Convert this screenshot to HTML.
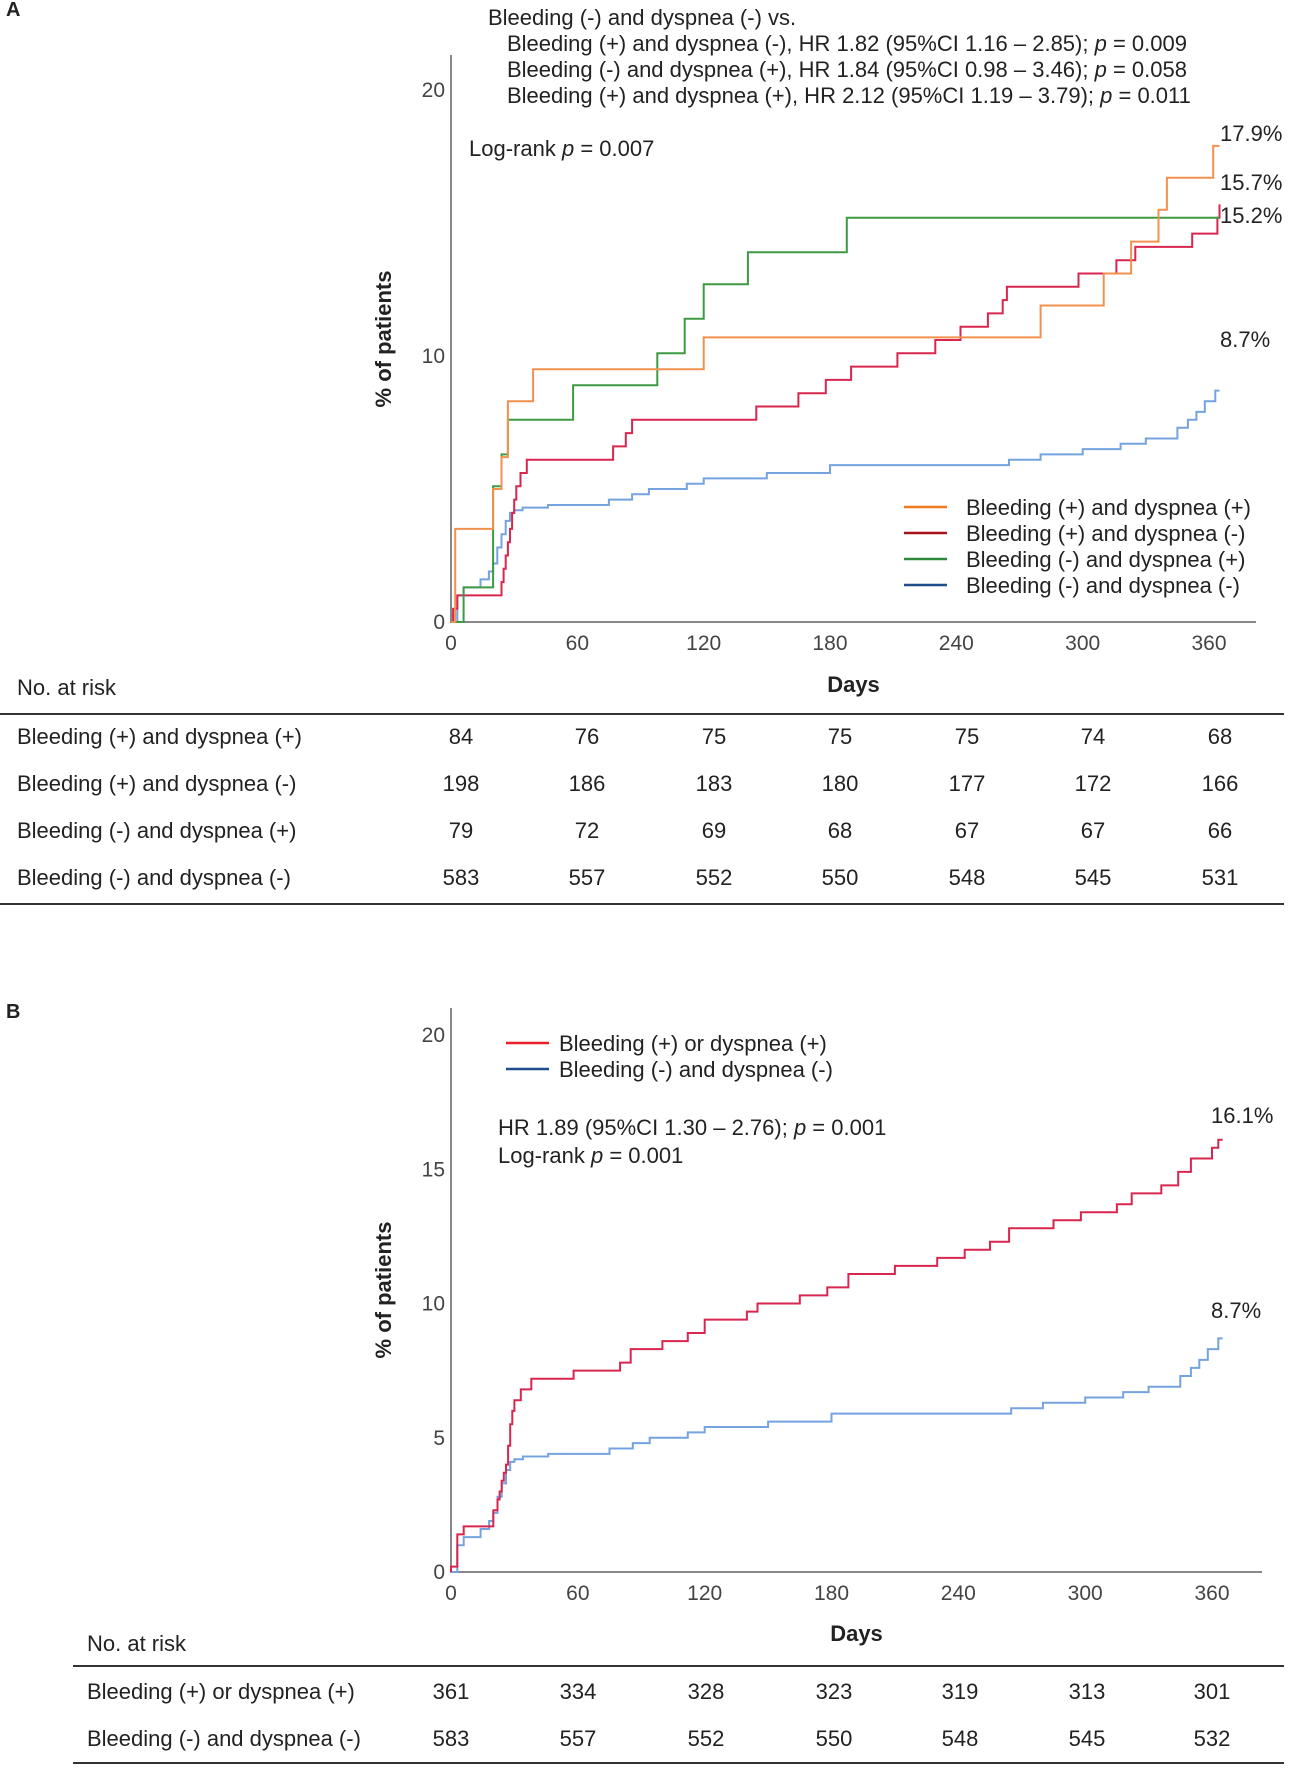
<!DOCTYPE html>
<html><head><meta charset="utf-8"><style>
html,body{margin:0;padding:0;background:#fff;}
svg{display:block;font-family:"Liberation Sans",Arial,sans-serif;}
</style></head><body>
<svg id="fig" width="1291" height="1772" viewBox="0 0 1291 1772" xmlns="http://www.w3.org/2000/svg">
<g font-size="22" fill="#222">
<text x="6" y="16" font-weight="bold" font-size="20">A</text>
<text x="488" y="25">Bleeding (-) and dyspnea (-) vs.</text>
<text x="507" y="51">Bleeding (+) and dyspnea (-), HR 1.82 (95%CI 1.16 – 2.85); <tspan font-style="italic">p</tspan> = 0.009</text>
<text x="507" y="77">Bleeding (-) and dyspnea (+), HR 1.84 (95%CI 0.98 – 3.46); <tspan font-style="italic">p</tspan> = 0.058</text>
<text x="507" y="103">Bleeding (+) and dyspnea (+), HR 2.12 (95%CI 1.19 – 3.79); <tspan font-style="italic">p</tspan> = 0.011</text>
<text x="469" y="156">Log-rank <tspan font-style="italic">p</tspan> = 0.007</text>
<text x="6" y="1018" font-weight="bold" font-size="20">B</text>
<text x="498" y="1135">HR 1.89 (95%CI 1.30 – 2.76); <tspan font-style="italic">p</tspan> = 0.001</text>
<text x="498" y="1163">Log-rank <tspan font-style="italic">p</tspan> = 0.001</text>
</g>
<g id="A"></g><g id="B"></g>
</svg>
<script>
const NS="http://www.w3.org/2000/svg";
const xTicks=[0,60,120,180,240,300,360];
// Panel A data
const aOrangeDays=[0,2,20,24,27,39,120,280,310,323,336,340,362,365];
const aOrangeVals=[0,3.5,5.0,6.2,8.3,9.5,10.7,11.9,13.1,14.3,15.5,16.7,17.9,17.9];
const aGreenDays=[0,6,20,24,27,58,98,111,120,141,188,365];
const aGreenVals=[0,1.3,5.1,6.3,7.6,8.9,10.1,11.4,12.7,13.9,15.2,15.2];
const aRedDays=[0,1,3,24,25,26,27,28,29,30,31,33,36,77,83,86,87,145,165,178,190,212,230,242,255,262,264,298,316,325,352,364,365];
const aRedVals=[0,0.5,1.0,1.5,2.0,2.5,3.0,3.5,4.1,4.6,5.1,5.6,6.1,6.6,7.1,7.6,7.6,8.1,8.6,9.1,9.6,10.1,10.6,11.1,11.6,12.1,12.6,13.1,13.6,14.1,14.6,15.2,15.7];
const blueDays=[0,3,6,14,18,20,22,24,26,28,30,34,46,75,86,94,112,120,150,180,265,280,300,318,330,345,350,354,358,363,365];
const blueVals=[0,1.0,1.3,1.6,1.9,2.2,2.8,3.3,3.8,4.1,4.2,4.3,4.4,4.6,4.8,5.0,5.2,5.4,5.6,5.9,6.1,6.3,6.5,6.7,6.9,7.3,7.6,7.9,8.3,8.7,8.7];
// Panel B data
const bRedDays=[0,3,6,20,22,23,24,25,26,27,28,29,30,33,38,58,80,85,100,112,120,140,145,165,178,188,210,230,243,255,264,285,298,315,322,336,344,350,360,363,365];
const bRedVals=[0.2,1.4,1.7,2.3,2.7,3.0,3.4,3.7,4.0,4.7,5.5,6.0,6.4,6.8,7.2,7.5,7.8,8.3,8.6,8.9,9.4,9.7,10.0,10.3,10.6,11.1,11.4,11.7,12.0,12.3,12.8,13.1,13.4,13.7,14.1,14.4,14.9,15.4,15.8,16.1,16.1];
const aRiskLabels=["Bleeding (+) and dyspnea (+)","Bleeding (+) and dyspnea (-)","Bleeding (-) and dyspnea (+)","Bleeding (-) and dyspnea (-)"];
const aRisk=[[84,76,75,75,75,74,68],[198,186,183,180,177,172,166],[79,72,69,68,67,67,66],[583,557,552,550,548,545,531]];
const bRiskLabels=["Bleeding (+) or dyspnea  (+)","Bleeding (-) and dyspnea (-)"];
const bRisk=[[361,334,328,323,319,313,301],[583,557,552,550,548,545,532]];

function el(parent,tag,attrs,text){const e=document.createElementNS(NS,tag);for(const k in attrs)e.setAttribute(k,attrs[k]);if(text!==undefined)e.textContent=text;parent.appendChild(e);return e;}

function panel(g,cfg){
  const X=d=>cfg.x0+(d/360)*(cfg.x360-cfg.x0);
  const Y=v=>cfg.y0+(v/20)*(cfg.y20-cfg.y0);
  const ax=el(g,'path',{d:`M${cfg.x0} ${cfg.yTop} V${cfg.y0} H${cfg.xEnd}`,stroke:'#888',fill:'none','stroke-width':2});
  
  
  xTicks.forEach(t=>{const e=el(g,'text',{x:X(t),y:cfg.y0+28,'text-anchor':'middle','font-size':21,fill:'#444'},t);
    
    });
  cfg.yTicks.forEach(t=>{const e=el(g,'text',{x:cfg.x0-6,y:Y(t)+7,'text-anchor':'end','font-size':21,fill:'#444'},t);
    
    });
  const yl=el(g,'text',{x:0,y:0,transform:`translate(${cfg.ylx},${cfg.yly}) rotate(-90)`,'text-anchor':'middle','font-size':22,'font-weight':'bold',fill:'#222'},'% of patients');
  
  
  const xl=el(g,'text',{x:(cfg.x0+cfg.xEnd)/2,y:cfg.daysY,'text-anchor':'middle','font-size':22,'font-weight':'bold',fill:'#222'},'Days');
  
  
  cfg.series.forEach(s=>{
    let d=`M${X(s.days[0])} ${Y(0)} V${Y(s.vals[0])}`;
    for(let i=1;i<s.days.length;i++){d+=` H${X(s.days[i]).toFixed(1)} V${Y(s.vals[i]).toFixed(1)}`;}
    const p=el(g,'path',{d:d,stroke:s.color,fill:'none','stroke-width':2});
    
    
  });
  cfg.endLabels.forEach(l=>{const e=el(g,'text',{x:l[0],y:l[1],'font-size':22,fill:'#222'},l[2]);
    
    });
  cfg.legend.forEach((l,i)=>{
    const y=cfg.legY+i*cfg.legDy;
    const ln=el(g,'line',{x1:cfg.legX1,x2:cfg.legX2,y1:y,y2:y,stroke:l[1],'stroke-width':2.5});
    
    
    const t=el(g,'text',{x:cfg.legTx,y:y+8,'font-size':22,fill:'#222'},l[0]);
    
    
  });
  const nr=el(g,'text',{x:cfg.labX,y:cfg.nrY,'font-size':22,fill:'#222'},'No. at risk');
  
  
  const l1=el(g,'line',{x1:cfg.tl,x2:1284,y1:cfg.line1,y2:cfg.line1,stroke:'#333','stroke-width':2});
  
  
  const l2=el(g,'line',{x1:cfg.tl,x2:1284,y1:cfg.line2,y2:cfg.line2,stroke:'#333','stroke-width':2});
  
  
  cfg.riskLabels.forEach((lab,r)=>{
    const y=cfg.row0+r*cfg.rowDy;
    const t=el(g,'text',{x:cfg.labX,y:y,'font-size':22,fill:'#222'},lab);
    
    
    cfg.risk[r].forEach((v,c)=>{const e=el(g,'text',{x:cfg.colX[c],y:y,'text-anchor':'middle','font-size':22,fill:'#222'},v);
      
      });
  });
}
panel(document.getElementById('A'),{x0:451,x360:1209,xEnd:1256,y0:622,y20:90,yTop:55,yTicks:[0,10,20],
  ylx:391,yly:339,daysY:692,
  series:[{name:'curve-bleed-neg-dysp-neg',days:blueDays,vals:blueVals,color:'#74a3e0'},
          {name:'curve-bleed-pos-dysp-neg',days:aRedDays,vals:aRedVals,color:'#d8264f'},
          {name:'curve-bleed-neg-dysp-pos',days:aGreenDays,vals:aGreenVals,color:'#3e9a42'},
          {name:'curve-bleed-pos-dysp-pos',days:aOrangeDays,vals:aOrangeVals,color:'#f0914f'}],
  endLabels:[[1220,141,'17.9%'],[1220,190,'15.7%'],[1220,223,'15.2%'],[1220,347,'8.7%']],
  legend:[['Bleeding (+) and dyspnea (+)','#f07a20'],['Bleeding (+) and dyspnea (-)','#a8101c'],['Bleeding (-) and dyspnea (+)','#2e8a3a'],['Bleeding (-) and dyspnea (-)','#1f4e8c']],
  legY:507,legDy:26,legX1:904,legX2:947,legTx:966,
  labX:17,nrY:695,tl:0,line1:714,line2:904,row0:744,rowDy:47,
  colX:[461,587,714,840,967,1093,1220],riskLabels:aRiskLabels,risk:aRisk});
panel(document.getElementById('B'),{x0:451,x360:1212,xEnd:1262,y0:1572,y20:1035,yTop:1008,yTicks:[0,5,10,15,20],
  ylx:391,yly:1290,daysY:1641,
  series:[{name:'curve-bleed-neg-dysp-neg',days:blueDays,vals:blueVals,color:'#74a3e0'},
          {name:'curve-bleed-or-dysp-pos',days:bRedDays,vals:bRedVals,color:'#d8264f'}],
  endLabels:[[1211,1123,'16.1%'],[1211,1318,'8.7%']],
  legend:[['Bleeding (+) or dyspnea (+)','#e8202a'],['Bleeding (-) and dyspnea (-)','#1f4e8c']],
  legY:1043,legDy:26,legX1:506,legX2:549,legTx:559,
  labX:87,nrY:1651,tl:73,line1:1666,line2:1763,row0:1699,rowDy:47,
  colX:[451,578,706,834,960,1087,1212],riskLabels:bRiskLabels,risk:bRisk});
</script>
</body></html>
